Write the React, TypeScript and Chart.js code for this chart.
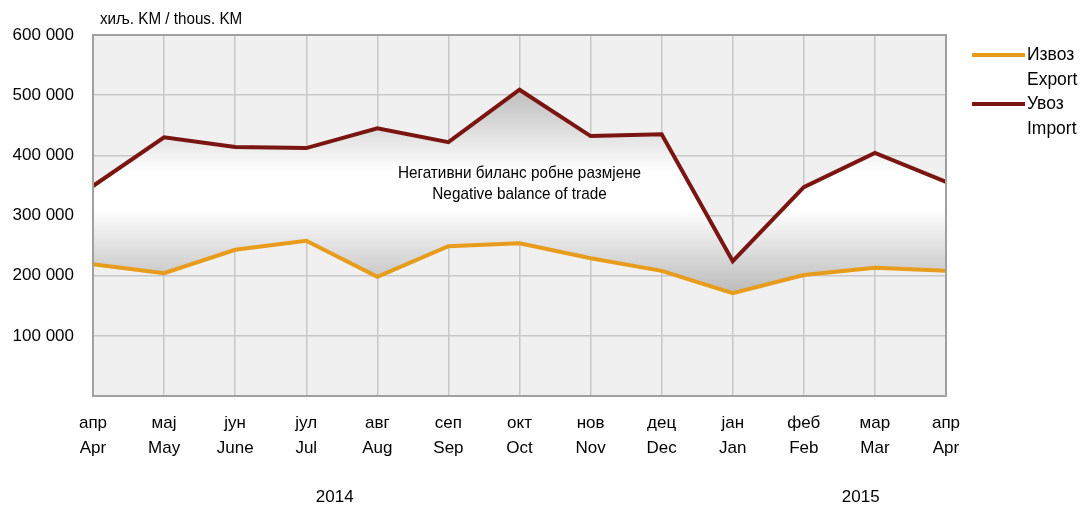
import React, { useEffect, useRef } from "react";
import { Chart, registerables } from "chart.js";

Chart.register(...registerables);

const monthsLocal = ["апр", "мај", "јун", "јул", "авг", "сеп", "окт", "нов", "дец", "јан", "феб", "мар", "апр"];
const monthsEn = ["Apr", "May", "June", "Jul", "Aug", "Sep", "Oct", "Nov", "Dec", "Jan", "Feb", "Mar", "Apr"];
const exportValues = [219000, 204000, 243000, 258000, 198000, 249000, 254000, 229000, 208000, 171000, 201000, 213000, 208000];
const importValues = [349000, 430000, 414000, 412000, 445000, 422000, 509000, 432000, 435000, 224000, 347000, 404000, 356000];
const yearLabels = ["2014", "2015"];
const yearAnchors = [3.4, 10.8];
const legendLocal = ["Извоз", "Увоз"];
const legendEn = ["Export", "Import"];
const unitLabel = "хиљ. KM / thous. KM";
const noteLines = ["Негативни биланс робне размјене", "Negative balance of trade"];

const FONT = "'Liberation Sans', Arial, sans-serif";
const ORANGE = "#e89c1c";
const DARKRED = "#7a1511";

function fmt(v: number): string {
  return String(v).replace(/\B(?=(\d{3})+(?!\d))/g, " ");
}

function narrowText(ctx: any, text: string, x: number, y: number, sx: number, align: string) {
  ctx.save();
  ctx.translate(x, y);
  ctx.scale(sx, 1);
  ctx.textAlign = align;
  ctx.fillText(text, 0, 0);
  ctx.restore();
}

export default function App() {
  const ref = useRef<HTMLCanvasElement | null>(null);

  useEffect(() => {
    document.body.style.margin = "0";
    const canvas = ref.current;
    if (!canvas) return;

    const decor = {
      id: "decor",
      beforeDraw(chart: any) {
        const { ctx, chartArea: a } = chart;
        ctx.save();
        ctx.fillStyle = "#f0f0f0";
        ctx.fillRect(a.left, a.top, a.right - a.left, a.bottom - a.top);
        ctx.restore();
      },
      afterDatasetsDraw(chart: any) {
        const { ctx, chartArea: a, scales } = chart;
        ctx.save();
        ctx.strokeStyle = "#a0a0a0";
        ctx.lineWidth = 2;
        ctx.strokeRect(a.left, a.top, a.right - a.left, a.bottom - a.top);
        ctx.fillStyle = "#000";
        ctx.textBaseline = "middle";
        const cx = scales.x.getPixelForValue(6);
        ctx.font = "17px " + FONT;
        narrowText(ctx, noteLines[0], cx, 173, 0.9, "center");
        narrowText(ctx, noteLines[1], cx, 194, 0.9, "center");
        ctx.font = "16px " + FONT;
        narrowText(ctx, unitLabel, 100, 20, 0.95, "left");
        ctx.font = "17px " + FONT;
        yearLabels.forEach((y, i) => {
          narrowText(ctx, y, scales.x.getPixelForValue(yearAnchors[i]), 497, 1, "center");
        });
        const colors = [ORANGE, DARKRED];
        const ys = [55, 104];
        ctx.lineWidth = 4;
        colors.forEach((c, i) => {
          ctx.strokeStyle = c;
          ctx.beginPath();
          ctx.moveTo(972, ys[i]);
          ctx.lineTo(1025, ys[i]);
          ctx.stroke();
          ctx.fillStyle = "#000";
          ctx.font = "18px " + FONT;
          narrowText(ctx, legendLocal[i], 1027, ys[i], 0.97, "left");
          narrowText(ctx, legendEn[i], 1027, ys[i] + 25, 0.97, "left");
        });
        ctx.restore();
      },
    };

    const chart = new Chart(canvas, {
      type: "line",
      data: {
        labels: monthsLocal.map((m, i) => [m, monthsEn[i]]),
        datasets: [
          {
            label: "Export",
            data: exportValues,
            borderColor: ORANGE,
            borderWidth: 4,
            pointRadius: 0,
            tension: 0,
            fill: false,
            order: 0,
          },
          {
            label: "Import",
            data: importValues,
            borderColor: DARKRED,
            borderWidth: 4,
            pointRadius: 0,
            tension: 0,
            fill: { target: 0 },
            backgroundColor: (c: any) => {
              const ch = c.chart;
              const { ctx, scales, chartArea } = ch;
              if (!chartArea || !scales || !scales.y) return "#e0e0e0";
              const y0 = scales.y.getPixelForValue(510000);
              const y1 = scales.y.getPixelForValue(165000);
              if (!isFinite(y0) || !isFinite(y1)) return "#e0e0e0";
              const g = ctx.createLinearGradient(0, y0, 0, y1);
              g.addColorStop(0, "#bdbdbd");
              g.addColorStop(0.4, "#ffffff");
              g.addColorStop(0.58, "#ffffff");
              g.addColorStop(1, "#b8b8b8");
              return g;
            },
            order: 1,
          },
        ],
      },
      options: {
        responsive: false,
        animation: false,
        devicePixelRatio: 1,
        layout: { padding: { top: 35, right: 135, left: 0, bottom: 0 } },
        plugins: { legend: { display: false }, tooltip: { enabled: false } },
        scales: {
          x: {
            offset: false,
            grid: { color: "#c8c8c8", lineWidth: 1.5, drawTicks: false },
            border: { display: false },
            ticks: {
              color: "#000",
              padding: 15,
              maxRotation: 0,
              autoSkip: false,
              font: { family: FONT, size: 17, lineHeight: 1.45 },
            },
            afterFit: (s: any) => {
              s.height = 112;
            },
          },
          y: {
            min: 0,
            max: 600000,
            grid: { color: "#c8c8c8", lineWidth: 1.5, drawTicks: false },
            border: { display: false },
            ticks: {
              stepSize: 100000,
              color: "#000",
              padding: 19,
              font: { family: FONT, size: 17 },
              callback: (v: any) => (v === 0 ? "" : fmt(Number(v))),
            },
            afterFit: (s: any) => {
              s.width = 93;
            },
          },
        },
      },
      plugins: [decor],
    });
    return () => chart.destroy();
  }, []);

  return (
    <div style={{ width: 1081, height: 508, background: "#fff" }}>
      <canvas ref={ref} width={1081} height={508} style={{ display: "block" }} />
    </div>
  );
}
